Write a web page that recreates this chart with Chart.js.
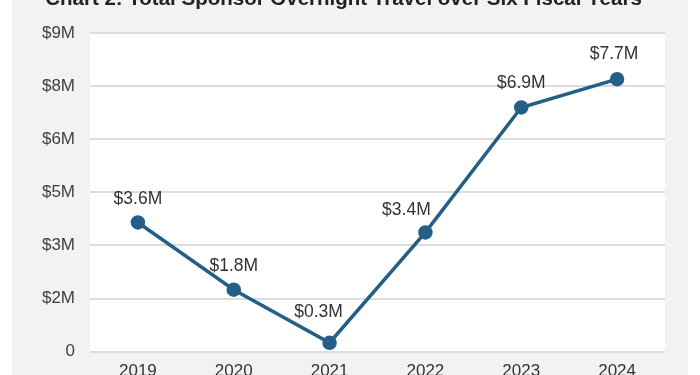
<!DOCTYPE html>
<html>
<head>
<meta charset="utf-8">
<script src="https://cdn.jsdelivr.net/npm/chart.js@4.4.1/dist/chart.umd.min.js"></script>
<style>
  html, body { margin: 0; padding: 0; background: #fff; overflow: hidden; width: 700px; height: 375px; }
  #panel { position: absolute; left: 12px; top: -20px; width: 676px; height: 404px; background: #f2f2f2; }
</style>
</head>
<body>
<div id="panel"><canvas id="chart"></canvas></div>
<script>
const years = ['2019', '2020', '2021', '2022', '2023', '2024']
const spending = [3.65, 1.75, 0.25, 3.37, 6.9, 7.7]
const pointLabels = ['$3.6M', '$1.8M', '$0.3M', '$3.4M', '$6.9M', '$7.7M']
const yTickLabels = ['0', '$2M', '$3M', '$5M', '$6M', '$8M', '$9M']
const title = 'Chart 2: Total Sponsor Overnight Travel over Six Fiscal Years'

const FONT = '"Liberation Sans", Arial, sans-serif'
const LINE = '#245f88'

// white plot area on the grey panel
const plotBg = {
  id: 'plotBg',
  beforeDraw(chart) {
    const {ctx, chartArea: a} = chart
    ctx.save()
    ctx.fillStyle = '#ffffff'
    ctx.fillRect(a.left, a.top, a.right - a.left, a.bottom - a.top)
    ctx.restore()
  },
}

// value labels above the points
const valueLabels = {
  id: 'valueLabels',
  afterDatasetsDraw(chart, args, opts) {
    const {ctx} = chart
    const meta = chart.getDatasetMeta(0)
    ctx.save()
    ctx.font = opts.font
    ctx.fillStyle = opts.color
    ctx.textAlign = 'center'
    ctx.textBaseline = 'middle'
    meta.data.forEach((pt, i) => {
      ctx.fillText(pointLabels[i], pt.x + opts.dx[i], pt.y + opts.dy[i])
    })
    ctx.restore()
  },
}

new Chart(document.getElementById('chart'), {
  type: 'line',
  data: {
    labels: years,
    datasets: [{
      data: spending,
      borderColor: LINE,
      backgroundColor: LINE,
      borderWidth: 3.5,
      pointRadius: 5.5,
      pointHoverRadius: 5.5,
      tension: 0,
    }],
  },
  options: {
    responsive: true,
    maintainAspectRatio: false,
    animation: false,
    layout: {padding: {left: 10, right: 23, top: 0, bottom: 0}},
    plugins: {
      legend: {display: false},
      tooltip: {enabled: false},
      title: {
        display: true,
        text: title,
        color: '#222',
        font: {family: FONT, size: 20.5, weight: 'bold'},
        padding: {top: 7, bottom: 21.6},
      },
      valueLabels: {
        font: '17.5px ' + FONT,
        color: '#333',
        dx: [0, 0, -11, -19, 0, -3],
        dy: [-23, -24, -31, -22, -24, -25],
      },
    },
    scales: {
      x: {
        offset: true,
        grid: {display: false},
        border: {display: false},
        ticks: {color: '#333', padding: 2, font: {family: FONT, size: 17}},
      },
      y: {
        min: 0,
        max: 9,
        afterFit(scale) { scale.width = 68 },
        ticks: {
          stepSize: 1.5,
          padding: 15,
          color: '#404040',
          font: {family: FONT, size: 17},
          callback: (v, i) => yTickLabels[i],
        },
        grid: {color: '#dcdcdc', lineWidth: 2, drawTicks: false},
        border: {display: false},
      },
    },
  },
  plugins: [plotBg, valueLabels],
})
</script>
</body>
</html>
